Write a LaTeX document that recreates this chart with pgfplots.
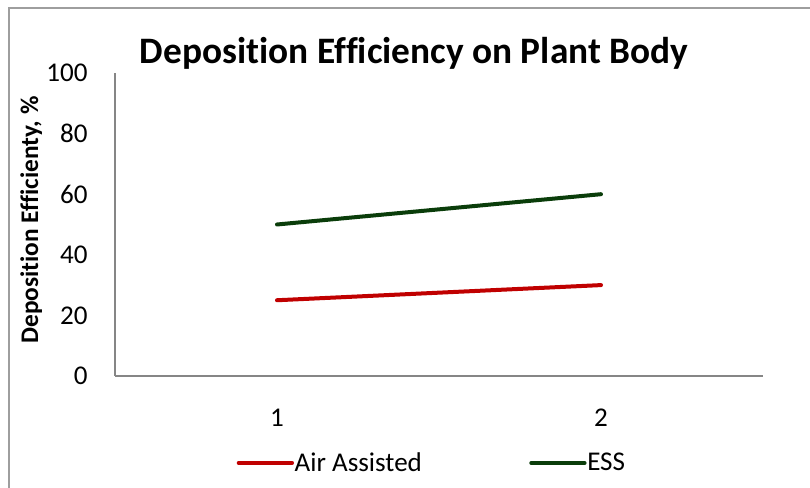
\documentclass[border=0pt]{standalone}
\usepackage{pgfplots}
\pgfplotsset{compat=1.18}
\usepackage{fontspec}
\setmainfont{Carlito}[Ligatures=NoCommon]
\definecolor{airred}{HTML}{C00000}
\definecolor{essgreen}{HTML}{0A3D0A}
\definecolor{axgray}{HTML}{868686}
\begin{document}
\begin{tikzpicture}
\useasboundingbox (0pt,0pt) rectangle (607.5pt,366pt);
% chart border (left and top visible)
\draw[color=axgray!80,line width=1.5pt] (6.75pt,0pt) -- (6.75pt,360pt) -- (607.5pt,360pt);
\node[font=\bfseries\fontsize{28}{32}\selectfont,anchor=center] at (310.5pt,326pt) {Deposition Efficiency on Plant Body};
\node[font=\bfseries\fontsize{19}{22}\selectfont,anchor=center,rotate=90] at (23.5pt,201pt) {Deposition Efficienty, \%};
\begin{axis}[
  at={(86.25pt,84pt)}, anchor=origin,
  scale only axis,
  width=486pt, height=227.25pt,
  xmin=0.5, xmax=2.5, ymin=0, ymax=100,
  xtick={1,2}, ytick={0,20,40,60,80,100},
  axis x line*=bottom, axis y line*=left,
  axis line style={color=axgray,line width=1pt,-},
  major tick length=0pt,
  tick label style={font=\fontsize{20.3}{23}\selectfont},
  /pgf/number format/assume math mode=true,
  xticklabel style={yshift=-21pt},
  yticklabel style={xshift=-17pt},
  legend columns=2,
  legend style={draw=none, at={(0.488,-0.287)}, anchor=center, font=\fontsize{20.3}{23}\selectfont,
    nodes={inner sep=0.5pt},
    /tikz/every even column/.append style={column sep=80pt}},
  legend image code/.code={\draw[#1, line cap=round] (0pt,0pt) -- (40pt,0pt);},
]
\addplot[color=airred, line width=3pt, line cap=round] coordinates {(1,25) (2,30)};
\addlegendentry{Air Assisted}
\addplot[color=essgreen, line width=3pt, line cap=round] coordinates {(1,50) (2,60)};
\addlegendentry{ESS}
\end{axis}
\end{tikzpicture}
\end{document}
